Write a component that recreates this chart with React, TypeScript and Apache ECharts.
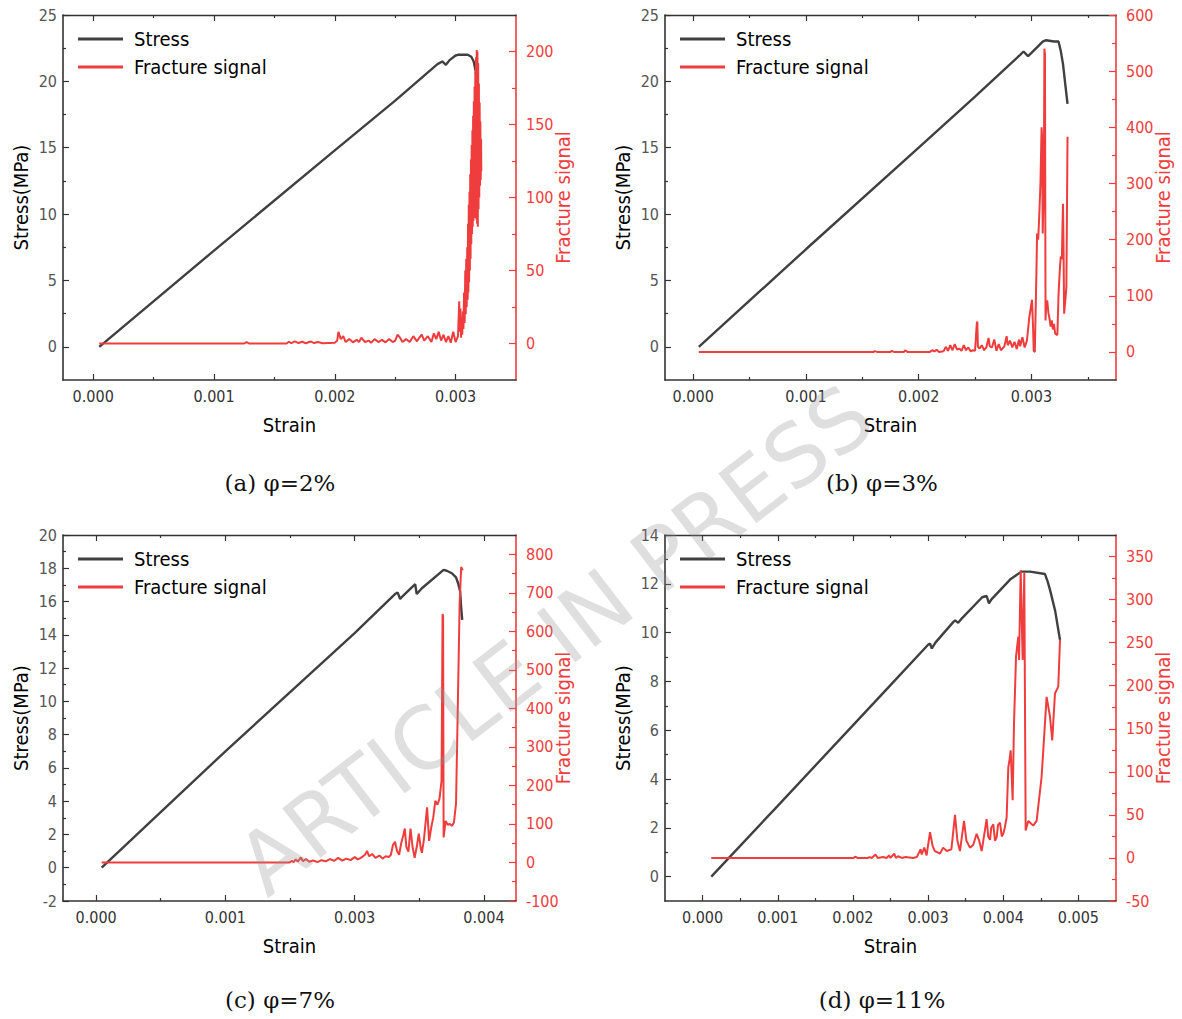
import React, { useEffect, useRef } from "react";
import * as echarts from "echarts";

const SANS = "'DejaVu Sans Condensed', 'DejaVu Sans', sans-serif";
const SERIF = "'DejaVu Serif', serif";
const RED = "#ef3d3d";
const GRAY = "#404040";
const AXIS = "#333333";

type Pt = [number, number];

// ---------- (a) φ=2% ----------
const stressA: Pt[] = [
  [0.00005, 0], [0.001, 7.25], [0.002, 14.8], [0.0025, 18.55], [0.00285, 21.3], [0.00289, 21.5],
  [0.00292, 21.25], [0.00295, 21.6], [0.003, 21.95], [0.00302, 22.0], [0.0031, 22.0], [0.00313, 21.85],
  [0.00315, 21.5], [0.00317, 20.6], [0.00318, 20.1],
];
const signalA: Pt[] = [
  [0.00005, 0], [0.00125, 0], [0.00127, 1], [0.00129, 0], [0.0016, 0], [0.00162, 1.2], [0.00164, 0.2],
  [0.00167, 1.5], [0.0017, 0.3], [0.00173, 1.2], [0.00176, 0.2], [0.0018, 1.4], [0.00183, 0.3],
  [0.00186, 1], [0.0019, 0.2], [0.002, 0.5], [0.00202, 2], [0.00203, 8], [0.00205, 3], [0.00207, 5],
  [0.00209, 1], [0.00212, 3], [0.00215, 0.8], [0.00218, 2.5], [0.0022, 1], [0.00222, 4], [0.00225, 1],
  [0.00228, 2], [0.0023, 0.5], [0.00233, 3], [0.00236, 1], [0.00239, 2.5], [0.00242, 0.8], [0.00245, 3],
  [0.00248, 1], [0.0025, 2], [0.00252, 6], [0.00254, 4], [0.00256, 1], [0.00259, 3], [0.00262, 1],
  [0.00265, 5], [0.00268, 1.5], [0.0027, 4], [0.00272, 6], [0.00274, 2], [0.00277, 5], [0.0028, 1],
  [0.00282, 7], [0.00284, 3], [0.00286, 8], [0.00288, 2], [0.0029, 6], [0.00292, 1], [0.00294, 5],
  [0.00296, 0.5], [0.00298, 8], [0.003, 1], [0.00302, 5], [0.00303, 29], [0.003035, 8], [0.00304, 24],
  [0.003045, 4], [0.00305, 18], [0.003055, 6], [0.00306, 22], [0.003065, 10], [0.00307, 35],
  [0.003075, 14], [0.00308, 50], [0.003084, 20], [0.003088, 58], [0.003092, 25], [0.003096, 66],
  [0.0031, 30], [0.003103, 82], [0.003106, 35], [0.003109, 95], [0.003112, 42], [0.003115, 104],
  [0.003118, 50], [0.003121, 116], [0.003124, 58], [0.003127, 126], [0.00313, 68], [0.003133, 136],
  [0.003136, 75], [0.003139, 146], [0.003142, 80], [0.003145, 156], [0.003148, 84], [0.003151, 166],
  [0.003154, 86], [0.003157, 176], [0.00316, 88], [0.003163, 186], [0.003166, 86], [0.003169, 196],
  [0.003172, 85], [0.003175, 201], [0.003178, 82], [0.003181, 200], [0.003184, 80], [0.003187, 192],
  [0.00319, 92], [0.003193, 178], [0.003196, 100], [0.003199, 165], [0.003202, 108], [0.003205, 152],
  [0.003208, 112], [0.003211, 140], [0.003213, 118],
];
const xTicksA = [0, 0.001, 0.002, 0.003];
const xLabelsA = ["0.000", "0.001", "0.002", "0.003"];
const xMinorA = [0.0005, 0.0015, 0.0025];
const yLeftTicksA = [0, 5, 10, 15, 20, 25];
const yLeftMinorA = [2.5, 7.5, 12.5, 17.5, 22.5];
const yRightTicksA = [0, 50, 100, 150, 200];
const yRightMinorA = [25, 75, 125, 175];

// ---------- (b) φ=3% ----------
const stressB: Pt[] = [
  [0.00005, 0], [0.001, 7.35], [0.002, 15.0], [0.0025, 18.85], [0.0029, 22.0], [0.00293, 22.25],
  [0.00297, 21.9], [0.003, 22.15], [0.0031, 23.0], [0.00313, 23.1], [0.0032, 23.0], [0.00324, 23.0],
  [0.00326, 22.3], [0.00328, 21.3], [0.0033, 19.8], [0.00332, 18.3],
];
const signalB: Pt[] = [
  [0.00005, 0], [0.0016, 0], [0.00161, 1.5], [0.00163, 0], [0.00175, 0], [0.00176, 2], [0.00178, 0],
  [0.00187, 0], [0.00188, 3], [0.0019, 0], [0.0021, 0], [0.00212, 3], [0.00214, 1], [0.00216, 4],
  [0.00218, 0], [0.00222, 1], [0.00224, 9], [0.00226, 2], [0.00228, 12], [0.0023, 3], [0.00232, 14],
  [0.00234, 4], [0.00236, 6], [0.00238, 2], [0.0024, 12], [0.00242, 3], [0.00244, 8], [0.00246, 1],
  [0.00248, 3], [0.0025, 2], [0.002515, 50], [0.00252, 54], [0.002525, 10], [0.00254, 6], [0.00256, 12],
  [0.00258, 3], [0.0026, 8], [0.00262, 25], [0.00263, 10], [0.00265, 8], [0.00267, 22], [0.00269, 2],
  [0.00271, 14], [0.00273, 3], [0.00276, 10], [0.00278, 28], [0.00279, 12], [0.00281, 20], [0.00283, 8],
  [0.00285, 18], [0.00287, 5], [0.00289, 22], [0.0029, 10], [0.00292, 26], [0.00294, 8], [0.00296, 20],
  [0.00298, 60], [0.003005, 93], [0.003015, 40], [0.00302, 2], [0.00303, 0], [0.003045, 150],
  [0.00305, 211], [0.00306, 200], [0.00307, 246], [0.00308, 300], [0.00309, 400], [0.003095, 380],
  [0.0031, 211], [0.00311, 300], [0.003115, 540], [0.00312, 530], [0.003125, 56], [0.00313, 80],
  [0.00314, 92], [0.00315, 70], [0.00316, 60], [0.00317, 45], [0.00318, 56], [0.00319, 40], [0.0032, 50],
  [0.00321, 33], [0.00323, 30], [0.00324, 100], [0.00325, 140], [0.00326, 170], [0.00327, 165],
  [0.003275, 220], [0.00328, 264], [0.003285, 180], [0.00329, 68], [0.0033, 90], [0.00331, 116],
  [0.003315, 250], [0.00332, 383],
];
const xTicksB = [0, 0.001, 0.002, 0.003];
const xLabelsB = ["0.000", "0.001", "0.002", "0.003"];
const xMinorB = [0.0005, 0.0015, 0.0025, 0.0035];
const yLeftTicksB = [0, 5, 10, 15, 20, 25];
const yLeftMinorB = [2.5, 7.5, 12.5, 17.5, 22.5];
const yRightTicksB = [0, 100, 200, 300, 400, 500, 600];
const yRightMinorB = [50, 150, 250, 350, 450, 550];

// ---------- (c) φ=7% ----------
const stressC: Pt[] = [
  [0.000054, 0], [0.00125, 7.0], [0.0025, 14.1], [0.00289, 16.45], [0.002915, 16.55], [0.00294, 16.15],
  [0.00296, 16.3], [0.00307, 16.95], [0.003085, 17.05], [0.0031, 16.45], [0.00315, 16.8],
  [0.00336, 17.9], [0.00339, 17.85], [0.00344, 17.7], [0.00348, 17.45], [0.0035, 17.1],
  [0.00352, 16.6], [0.00353, 15.6], [0.00354, 14.9],
];
const signalC: Pt[] = [
  [0.000054, 0], [0.00187, 0], [0.00189, 4], [0.00191, 1], [0.00193, 8], [0.00195, 2], [0.00198, 13],
  [0.002, 3], [0.00203, 9], [0.00206, 2], [0.0021, 5], [0.00214, 1], [0.00218, 6], [0.00222, 3],
  [0.00226, 9], [0.0023, 4], [0.00234, 12], [0.00238, 5], [0.00242, 10], [0.00246, 6], [0.0025, 14],
  [0.00253, 8], [0.00256, 12], [0.0026, 20], [0.00262, 30], [0.00264, 16], [0.00267, 22], [0.0027, 12],
  [0.00274, 18], [0.00277, 10], [0.0028, 16], [0.00283, 14], [0.00285, 20], [0.00287, 45], [0.00289, 54],
  [0.00291, 30], [0.00293, 20], [0.00295, 50], [0.00297, 70], [0.002985, 88], [0.003, 40], [0.00302, 28],
  [0.00304, 88], [0.00306, 40], [0.00308, 12], [0.0031, 40], [0.00312, 75], [0.00314, 35], [0.00315, 25],
  [0.00317, 60], [0.0032, 143], [0.00322, 56], [0.00324, 90], [0.00326, 117], [0.00328, 160],
  [0.0033, 150], [0.00332, 165], [0.00334, 212], [0.00335, 645], [0.003355, 640], [0.00336, 65],
  [0.00338, 108], [0.0034, 98], [0.00342, 100], [0.00344, 95], [0.00346, 104], [0.00348, 152],
  [0.003495, 369], [0.003515, 672], [0.00353, 767], [0.003545, 758],
];
const xTicksC = [0, 0.00125, 0.0025, 0.00375];
const xLabelsC = ["0.000", "0.001", "0.003", "0.004"];
const xMinorC = [0.000625, 0.001875, 0.003125];
const yLeftTicksC = [-2, 0, 2, 4, 6, 8, 10, 12, 14, 16, 18, 20];
const yLeftMinorC = [-1, 1, 3, 5, 7, 9, 11, 13, 15, 17, 19];
const yRightTicksC = [-100, 0, 100, 200, 300, 400, 500, 600, 700, 800];
const yRightMinorC = [-50, 50, 150, 250, 350, 450, 550, 650, 750];

// ---------- (d) φ=11% ----------
const stressD: Pt[] = [
  [0.000116, 0], [0.001, 2.9], [0.002, 6.2], [0.0025, 7.85], [0.003, 9.5], [0.003026, 9.55],
  [0.00305, 9.35], [0.0031, 9.6], [0.00334, 10.45], [0.00336, 10.5], [0.0034, 10.4], [0.00344, 10.55],
  [0.00372, 11.45], [0.003779, 11.5], [0.00381, 11.2], [0.00384, 11.35], [0.0041, 12.2],
  [0.004245, 12.5], [0.004356, 12.5], [0.004555, 12.4], [0.00459, 12.1], [0.004622, 11.75],
  [0.00469, 10.9], [0.004755, 9.7],
];
const signalD: Pt[] = [
  [0.000116, 0], [0.00201, 0], [0.00203, 1.5], [0.00206, 0], [0.0022, 0], [0.00222, 1], [0.00225, 0],
  [0.0023, 4], [0.00233, 0], [0.0024, 1], [0.00245, 0], [0.00248, 3], [0.0025, 0], [0.00255, 5],
  [0.00257, 0], [0.0026, 2], [0.00265, 0], [0.0027, 1], [0.0028, 0], [0.00285, 1], [0.0029, 10],
  [0.002915, 4], [0.00295, 12], [0.00298, 3], [0.003026, 30], [0.00306, 14], [0.00309, 8],
  [0.003159, 5], [0.0032, 12], [0.003248, 8], [0.00331, 10], [0.003358, 50], [0.00339, 20],
  [0.003424, 8], [0.003478, 43], [0.00351, 20], [0.003557, 12], [0.0036, 15], [0.003646, 28],
  [0.00368, 20], [0.003713, 8], [0.003779, 45], [0.0038, 25], [0.003824, 21], [0.00384, 35],
  [0.003868, 39], [0.00389, 20], [0.003912, 24], [0.00393, 38], [0.003957, 41], [0.00398, 25],
  [0.004001, 28], [0.00402, 35], [0.004045, 47], [0.004067, 105], [0.004085, 115], [0.004099, 125],
  [0.004125, 67], [0.004143, 156], [0.00417, 234], [0.0042, 257], [0.00421, 230], [0.004232, 334],
  [0.004258, 230], [0.00428, 331], [0.004298, 32], [0.004333, 43], [0.004399, 37.5], [0.004444, 43],
  [0.00451, 94], [0.004577, 187], [0.004622, 164], [0.004652, 136.5], [0.004688, 191], [0.004732, 199],
  [0.004755, 253],
];
const xTicksD = [0, 0.001, 0.002, 0.003, 0.004, 0.005];
const xLabelsD = ["0.000", "0.001", "0.002", "0.003", "0.004", "0.005"];
const xMinorD = [0.0005, 0.0015, 0.0025, 0.0035, 0.0045];
const yLeftTicksD = [0, 2, 4, 6, 8, 10, 12, 14];
const yLeftMinorD = [1, 3, 5, 7, 9, 11, 13];
const yRightTicksD = [-50, 0, 50, 100, 150, 200, 250, 300, 350];
const yRightMinorD = [-25, 25, 75, 125, 175, 225, 275, 325];

const captions = ["(a) φ=2%", "(b) φ=3%", "(c) φ=7%", "(d) φ=11%"];

interface Panel {
  grid: { left: number; top: number; width: number; height: number };
  stress: Pt[];
  signal: Pt[];
  x: { min: number; max: number; ticks: number[]; labels: string[]; minor: number[] };
  yl: { min: number; max: number; ticks: number[]; minor: number[] };
  yr: { min: number; max: number; ticks: number[]; minor: number[] };
  legend: { left: number; top: number };
  caption: { x: number; y: number };
}

const panels: Panel[] = [
  {
    grid: { left: 63, top: 15, width: 453, height: 365 },
    stress: stressA, signal: signalA,
    x: { min: -0.00025, max: 0.0035, ticks: xTicksA, labels: xLabelsA, minor: xMinorA },
    yl: { min: -2.5, max: 25, ticks: yLeftTicksA, minor: yLeftMinorA },
    yr: { min: -25, max: 225, ticks: yRightTicksA, minor: yRightMinorA },
    legend: { left: 78, top: 29 },
    caption: { x: 280, y: 483 },
  },
  {
    grid: { left: 665, top: 15, width: 451, height: 365 },
    stress: stressB, signal: signalB,
    x: { min: -0.00025, max: 0.00375, ticks: xTicksB, labels: xLabelsB, minor: xMinorB },
    yl: { min: -2.5, max: 25, ticks: yLeftTicksB, minor: yLeftMinorB },
    yr: { min: -50, max: 600, ticks: yRightTicksB, minor: yRightMinorB },
    legend: { left: 680, top: 29 },
    caption: { x: 882, y: 483 },
  },
  {
    grid: { left: 63, top: 535, width: 453, height: 366 },
    stress: stressC, signal: signalC,
    x: { min: -0.00032, max: 0.00406, ticks: xTicksC, labels: xLabelsC, minor: xMinorC },
    yl: { min: -2, max: 20, ticks: yLeftTicksC, minor: yLeftMinorC },
    yr: { min: -100, max: 850, ticks: yRightTicksC, minor: yRightMinorC },
    legend: { left: 78, top: 549 },
    caption: { x: 280, y: 1000 },
  },
  {
    grid: { left: 665, top: 535, width: 451, height: 366 },
    stress: stressD, signal: signalD,
    x: { min: -0.0005, max: 0.0055, ticks: xTicksD, labels: xLabelsD, minor: xMinorD },
    yl: { min: -1, max: 14, ticks: yLeftTicksD, minor: yLeftMinorD },
    yr: { min: -50, max: 375, ticks: yRightTicksD, minor: yRightMinorD },
    legend: { left: 680, top: 549 },
    caption: { x: 882, y: 1000 },
  },
];

function nearestLabel(ticks: number[], labels: string[], v: number): string {
  let best = 0;
  for (let i = 1; i < ticks.length; i++) {
    if (Math.abs(ticks[i] - v) < Math.abs(ticks[best] - v)) best = i;
  }
  return labels[best];
}

function buildOption() {
  const grid: any[] = [];
  const xAxis: any[] = [];
  const yAxis: any[] = [];
  const series: any[] = [];
  const legend: any[] = [];
  const graphic: any[] = [];

  panels.forEach((p, gi) => {
    grid.push({ ...p.grid, containLabel: false, outerBoundsMode: "none" });
    const xc = {
      type: "value", gridIndex: gi, min: p.x.min, max: p.x.max,
      splitLine: { show: false }, axisPointer: { show: false },
    };
    const tickStyle = { color: AXIS, width: 1.2 };
    xAxis.push(
      {
        ...xc, position: "bottom",
        axisLine: { show: true, onZero: false, lineStyle: { color: AXIS, width: 1.6 } },
        axisTick: { show: true, inside: true, length: 6, customValues: p.x.ticks, lineStyle: tickStyle },
        axisLabel: {
          show: true, customValues: p.x.ticks, margin: 8, fontSize: 16, fontFamily: SANS, color: "#333",
          formatter: (v: number) => nearestLabel(p.x.ticks, p.x.labels, v),
        },
        name: "Strain", nameLocation: "middle", nameGap: 35, nameMoveOverlap: false,
        nameTextStyle: { fontSize: 20, fontFamily: SANS, color: "#000" },
      },
      {
        ...xc, position: "bottom",
        axisLine: { show: false, onZero: false },
        axisTick: { show: true, inside: true, length: 3, customValues: p.x.minor, lineStyle: tickStyle },
        axisLabel: { show: false, customValues: p.x.minor },
      },
      {
        ...xc, position: "top",
        axisLine: { show: true, onZero: false, lineStyle: { color: AXIS, width: 1.3 } },
        axisTick: { show: true, inside: true, length: 6, customValues: p.x.ticks, lineStyle: tickStyle },
        axisLabel: { show: false, customValues: p.x.ticks },
      },
      {
        ...xc, position: "top",
        axisLine: { show: false, onZero: false },
        axisTick: { show: true, inside: true, length: 3, customValues: p.x.minor, lineStyle: tickStyle },
        axisLabel: { show: false, customValues: p.x.minor },
      },
    );

    const ylc = {
      type: "value", gridIndex: gi, min: p.yl.min, max: p.yl.max, position: "left",
      splitLine: { show: false }, axisPointer: { show: false },
    };
    const yrc = {
      type: "value", gridIndex: gi, min: p.yr.min, max: p.yr.max, position: "right",
      splitLine: { show: false }, axisPointer: { show: false },
    };
    const redTick = { color: RED, width: 1.2 };
    yAxis.push(
      {
        ...ylc,
        axisLine: { show: true, onZero: false, lineStyle: { color: AXIS, width: 1.6 } },
        axisTick: { show: true, inside: true, length: 6, customValues: p.yl.ticks, lineStyle: tickStyle },
        axisLabel: {
          show: true, customValues: p.yl.ticks, margin: 6, fontSize: 16, fontFamily: SANS, color: "#555",
          formatter: (v: number) => String(Math.round(v)),
        },
        name: "Stress(MPa)", nameLocation: "middle", nameGap: 32, nameRotate: 90, nameMoveOverlap: false,
        nameTextStyle: { fontSize: 20, fontFamily: SANS, color: "#000" },
      },
      {
        ...ylc,
        axisLine: { show: false, onZero: false },
        axisTick: { show: true, inside: true, length: 3, customValues: p.yl.minor, lineStyle: tickStyle },
        axisLabel: { show: false, customValues: p.yl.minor },
      },
      {
        ...yrc,
        axisLine: { show: true, onZero: false, lineStyle: { color: RED, width: 1.6 } },
        axisTick: { show: true, inside: true, length: 7, customValues: p.yr.ticks, lineStyle: redTick },
        axisLabel: {
          show: true, customValues: p.yr.ticks, margin: 10, fontSize: 16, fontFamily: SANS, color: RED,
          formatter: (v: number) => String(Math.round(v)),
        },
        name: "Fracture signal", nameLocation: "middle", nameGap: 37, nameRotate: 90, nameMoveOverlap: false,
        nameTextStyle: { fontSize: 20, fontFamily: SANS, color: RED },
      },
      {
        ...yrc,
        axisLine: { show: false, onZero: false },
        axisTick: { show: true, inside: true, length: 4, customValues: p.yr.minor, lineStyle: redTick },
        axisLabel: { show: false, customValues: p.yr.minor },
      },
    );

    series.push(
      {
        name: "Stress", type: "line", xAxisIndex: gi * 4, yAxisIndex: gi * 4, data: p.stress,
        showSymbol: false, symbol: "none", smooth: false, z: 3,
        lineStyle: { color: GRAY, width: 2.4 }, itemStyle: { color: GRAY },
      },
      {
        name: "Fracture signal", type: "line", xAxisIndex: gi * 4, yAxisIndex: gi * 4 + 2, data: p.signal,
        showSymbol: false, symbol: "none", smooth: false, z: 4,
        lineStyle: { color: RED, width: 2 }, itemStyle: { color: RED },
      },
    );

    legend.push({
      left: p.legend.left, top: p.legend.top, orient: "vertical", padding: 0,
      data: ["Stress", "Fracture signal"], icon: "rect", itemWidth: 45, itemHeight: 3, itemGap: 8,
      selectedMode: false,
      textStyle: { fontSize: 20, fontFamily: SANS, color: "#000", padding: [0, 0, 0, 6] },
    });

    graphic.push({
      type: "text", x: p.caption.x, y: p.caption.y,
      style: {
        text: captions[gi], font: `23px ${SERIF}`, fill: "#111",
        textAlign: "center", textVerticalAlign: "middle", align: "center", verticalAlign: "middle",
      },
    });
  });

  graphic.push({
    type: "text", x: 555, y: 640, rotation: (37.5 * Math.PI) / 180, z: 100, silent: true,
    style: {
      text: "ARTICLE IN PRESS", font: `86px 'DejaVu Sans', sans-serif`, fill: "rgba(150,150,150,0.3)",
      align: "center", verticalAlign: "middle", textAlign: "center", textVerticalAlign: "middle",
    },
  });

  return {
    animation: false,
    backgroundColor: "#ffffff",
    grid, xAxis, yAxis, series, legend, graphic,
  };
}

export default function App() {
  const ref = useRef<HTMLDivElement>(null);
  useEffect(() => {
    if (!ref.current) return;
    const chart = echarts.init(ref.current, undefined, { renderer: "svg" });
    chart.setOption(buildOption() as any);
    return () => chart.dispose();
  }, []);
  return (
    <div
      ref={ref}
      style={{ position: "absolute", left: 0, top: 0, width: 1182, height: 1019, background: "#fff" }}
    />
  );
}
